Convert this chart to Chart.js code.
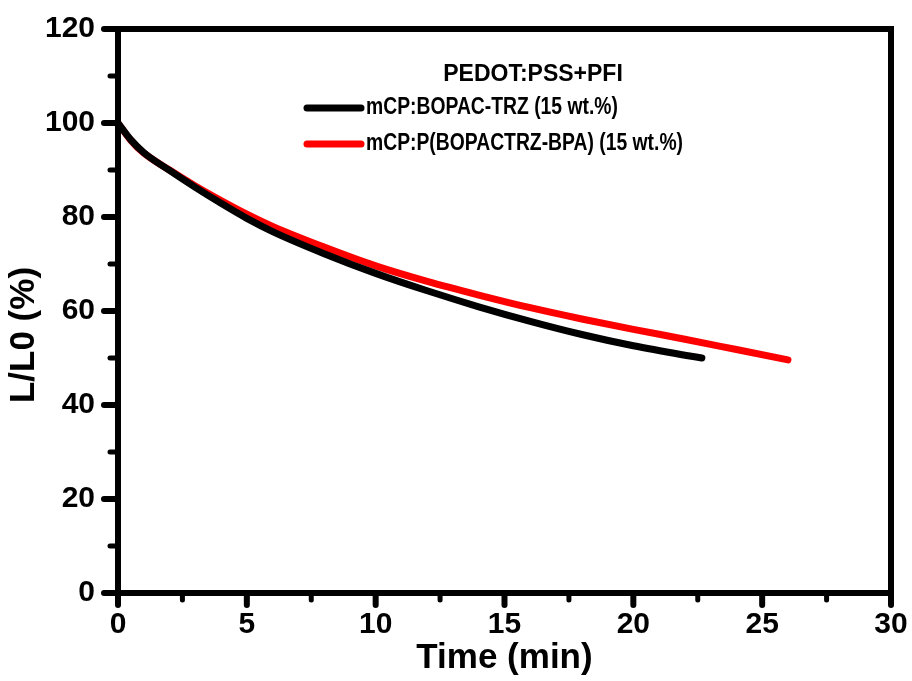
<!DOCTYPE html>
<html>
<head>
<meta charset="utf-8">
<script src="https://cdn.jsdelivr.net/npm/chart.js@4.4.0/dist/chart.umd.min.js"></script>
<style>
  html, body { margin: 0; padding: 0; background: #fff; }
  #wrap { width: 912px; height: 681px; }
</style>
</head>
<body>
<div id="wrap"><canvas id="chart"></canvas></div>
<script>
// data
const legend_title = 'PEDOT:PSS+PFI';
const series_labels = ['mCP:BOPAC-TRZ (15 wt.%)', 'mCP:P(BOPACTRZ-BPA) (15 wt.%)'];
const series_colors = ['#000000', '#ff0000'];

const time_black = [0, 0.5, 1, 2, 3, 4, 5, 6, 8, 10, 12, 14, 16, 18, 20, 22, 22.66];
const lum_black  = [100, 96.4, 93.7, 89.9, 86.3, 82.9, 79.7, 76.9, 72.2, 68.0, 64.3, 60.9, 57.8, 55.0, 52.6, 50.6, 50.0];
const time_red   = [0, 0.5, 1, 2, 3, 4, 5, 6, 8, 10, 12, 14, 16, 18, 20, 22, 24, 26];
const lum_red    = [100, 96.3, 93.6, 90.0, 86.6, 83.5, 80.6, 78.0, 73.6, 69.6, 66.3, 63.4, 60.7, 58.3, 56.1, 54.0, 51.8, 49.6];

const x_major = [0, 5, 10, 15, 20, 25, 30];
const x_minor = [2.5, 7.5, 12.5, 17.5, 22.5, 27.5];
const y_major = [0, 20, 40, 60, 80, 100, 120];
const y_minor = [10, 30, 50, 70, 90, 110];

const x_title = 'Time (min)';
const y_title = 'L/L0 (%)';

const font_family = '"Liberation Sans", Arial, sans-serif';

function to_points(xs, ys) {
  return xs.map((x, i) => ({ x: x, y: ys[i] }));
}

// frame, outward ticks and y title
const frame_plugin = {
  id: 'frameTicks',
  afterDatasetsDraw: (chart) => {
    const ctx = chart.ctx;
    const { left, right, top, bottom } = chart.chartArea;
    const xs = chart.scales.x;
    const ys = chart.scales.y;
    ctx.save();
    ctx.strokeStyle = '#000';
    ctx.lineWidth = 6;
    ctx.lineCap = 'round';
    const seg = (x1, y1, x2, y2) => {
      ctx.beginPath(); ctx.moveTo(x1, y1); ctx.lineTo(x2, y2); ctx.stroke();
    };
    x_major.forEach(v => { const p = xs.getPixelForValue(v); seg(p, bottom, p, bottom + 12); });
    y_major.forEach(v => { const p = ys.getPixelForValue(v); seg(left, p, left - 14, p); });
    ctx.lineWidth = 5;
    x_minor.forEach(v => { const p = xs.getPixelForValue(v); seg(p, bottom, p, bottom + 7); });
    y_minor.forEach(v => { const p = ys.getPixelForValue(v); seg(left, p, left - 8, p); });
    ctx.lineWidth = 6;
    ctx.lineCap = 'butt';
    ctx.lineJoin = 'miter';
    ctx.strokeRect(left, top, right - left, bottom - top);

    // y title sits a bit below the middle of the axis
    ctx.fillStyle = '#000';
    ctx.font = 'bold 35px ' + font_family;
    ctx.textAlign = 'center';
    ctx.textBaseline = 'middle';
    ctx.translate(24, top + (bottom - top) / 2 + 24);
    ctx.rotate(-Math.PI / 2);
    ctx.fillText(y_title, 0, 0);
    ctx.restore();
  }
};

// legend drawn inside the plot
const legend_plugin = {
  id: 'innerLegend',
  afterDraw: (chart) => {
    const ctx = chart.ctx;
    const { left, top } = chart.chartArea;
    ctx.save();
    ctx.fillStyle = '#000';
    ctx.textBaseline = 'middle';
    ctx.textAlign = 'center';
    ctx.font = 'bold 23px ' + font_family;
    ctx.fillText(legend_title, left + 415, top + 46);

    chart.data.datasets.forEach((ds, i) => {
      const y = top + 79 + i * 36;
      ctx.strokeStyle = ds.borderColor;
      ctx.lineWidth = 7;
      ctx.lineCap = 'round';
      ctx.beginPath();
      ctx.moveTo(left + 189, y);
      ctx.lineTo(left + 243, y);
      ctx.stroke();
      ctx.save();
      ctx.translate(left + 248, y);
      ctx.scale(0.84, 1);
      ctx.textAlign = 'left';
      ctx.fillStyle = '#000';
      ctx.fillText(ds.label, 0, 0);
      ctx.restore();
    });
    ctx.restore();
  }
};

function make_dataset(label, color, xs, ys) {
  return {
    label: label,
    data: to_points(xs, ys),
    borderColor: color,
    backgroundColor: color,
    borderWidth: 7,
    pointRadius: 0,
    fill: false,
    cubicInterpolationMode: 'monotone',
    borderCapStyle: 'round',
    borderJoinStyle: 'round'
  };
}

const tick_font = { family: font_family, size: 30, weight: 'bold' };

const config = {
  type: 'line',
  data: {
    datasets: [
      make_dataset(series_labels[0], series_colors[0], time_black, lum_black),
      make_dataset(series_labels[1], series_colors[1], time_red, lum_red)
    ]
  },
  options: {
    responsive: true,
    maintainAspectRatio: false,
    animation: false,
    layout: { padding: { top: 29, right: 21, left: 0, bottom: 0 } },
    plugins: {
      legend: { display: false },
      tooltip: { enabled: false }
    },
    scales: {
      x: {
        type: 'linear',
        min: 0,
        max: 30,
        grid: { display: false, drawTicks: false },
        border: { display: false },
        ticks: { stepSize: 5, color: '#000', font: tick_font, padding: 14, maxRotation: 0 },
        title: {
          display: true,
          text: x_title,
          color: '#000',
          font: { family: font_family, size: 35, weight: 'bold', lineHeight: 1 },
          padding: { top: 0, bottom: 5 }
        },
        afterFit: (scale) => {
          scale.height = 88;
          scale.paddingLeft = 0;
          scale.paddingRight = 0;
        }
      },
      y: {
        min: 0,
        max: 120,
        grid: { display: false, drawTicks: false },
        border: { display: false },
        ticks: { stepSize: 20, color: '#000', font: tick_font, padding: 23 },
        afterFit: (scale) => {
          scale.width = 118;
          scale.paddingTop = 0;
          scale.paddingBottom = 0;
        }
      }
    }
  },
  plugins: [frame_plugin, legend_plugin]
};

new Chart(document.getElementById('chart'), config);
</script>
</body>
</html>
